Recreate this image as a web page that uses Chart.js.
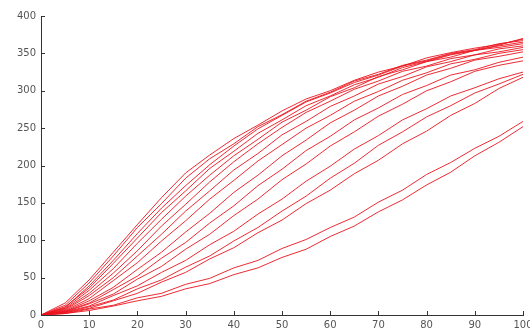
<!DOCTYPE html>
<html>
<head>
<meta charset="utf-8">
<script src="https://cdn.jsdelivr.net/npm/chart.js@4/dist/chart.umd.min.js"></script>
<style>
  html, body { margin: 0; padding: 0; background: #fff; }
  #wrap { width: 530px; height: 336px; }
</style>
</head>
<body>
<div id="wrap"><canvas id="chart" width="530" height="336"></canvas></div>
<script>
// x positions shared by every run
const xs = [0, 5, 10, 15, 20, 25, 30, 35, 40, 45, 50, 55, 60, 65, 70, 75, 80, 85, 90, 95, 100];

// upper bundle - fast growing runs
const u1 = [0, 16, 47, 84, 121, 157, 190, 214, 236, 254, 273, 289, 300, 314, 325, 333, 344, 351, 357, 362, 369];
const u2 = [0, 13, 43, 79, 117, 149, 183, 209, 229, 252, 268, 286, 298, 313, 322, 334, 341, 350, 355, 363, 367];
const u3 = [0, 10, 39, 73, 109, 143, 173, 201, 226, 249, 267, 285, 297, 311, 321, 333, 340, 349, 354, 361, 370];
const u4 = [0, 11, 36, 69, 103, 137, 166, 196, 219, 243, 261, 280, 293, 308, 318, 331, 339, 348, 354, 360, 365];
const u5 = [0, 9, 33, 62, 96, 128, 159, 187, 213, 235, 258, 274, 292, 304, 319, 328, 339, 345, 354, 358, 363];
const u6 = [0, 8, 29, 56, 86, 119, 148, 178, 205, 229, 251, 271, 286, 302, 313, 326, 333, 343, 348, 356, 360];
const u7 = [0, 7, 26, 50, 79, 108, 139, 166, 194, 216, 241, 259, 279, 293, 309, 319, 332, 339, 348, 352, 358];
const u8 = [0, 6, 22, 46, 70, 99, 126, 155, 180, 206, 228, 250, 267, 286, 299, 314, 324, 336, 342, 350, 355];

// middle runs
const m1 = [0, 5, 19, 37, 61, 84, 111, 136, 164, 187, 213, 234, 257, 274, 293, 306, 321, 330, 341, 346, 352];
const m2 = [0, 5, 16, 34, 52, 76, 97, 123, 146, 173, 195, 220, 239, 261, 277, 295, 307, 321, 328, 338, 345];
const m3 = [0, 4, 15, 28, 48, 65, 88, 108, 133, 155, 181, 202, 226, 245, 266, 282, 300, 312, 326, 334, 340];
const m4 = [0, 4, 12, 26, 39, 57, 73, 94, 112, 135, 155, 179, 199, 222, 240, 261, 276, 293, 304, 316, 325];
const m5 = [0, 3, 11, 20, 35, 47, 64, 79, 99, 117, 139, 159, 183, 203, 227, 245, 265, 280, 297, 309, 322];
const m6 = [0, 3, 9, 19, 29, 44, 57, 75, 90, 110, 127, 149, 167, 189, 207, 229, 246, 267, 283, 303, 318];

// slow runs
const l1 = [0, 2, 8, 13, 23, 29, 41, 49, 63, 73, 89, 101, 117, 131, 151, 167, 188, 204, 223, 239, 259];
const l2 = [0, 2, 6, 12, 19, 25, 35, 42, 54, 63, 77, 88, 105, 119, 138, 154, 174, 191, 213, 231, 252];

const runs = [u1, u2, u3, u4, u5, u6, u7, u8, m1, m2, m3, m4, m5, m6, l1, l2];

const xTicks = [0, 10, 20, 30, 40, 50, 60, 70, 80, 90, 100];
const yTicks = [0, 50, 100, 150, 200, 250, 300, 350, 400];

const datasets = runs.map((run) => ({
  data: run.map((v, i) => ({ x: xs[i], y: v })),
  borderColor: 'rgba(235, 20, 30, 0.9)',
  borderWidth: 1,
  pointRadius: 0,
  tension: 0,
  fill: false
}));

const axisColor = '#333';
const tickFont = { family: 'DejaVu Sans', size: 10 };

// matlab style ticks pointing into the plot area
const innerTicks = {
  id: 'innerTicks',
  afterDraw(chart) {
    const { ctx, chartArea, scales } = chart;
    ctx.save();
    ctx.strokeStyle = axisColor;
    ctx.lineWidth = 1;
    ctx.beginPath();
    xTicks.forEach((v) => {
      const px = Math.round(scales.x.getPixelForValue(v)) + 0.5;
      ctx.moveTo(px, chartArea.bottom);
      ctx.lineTo(px, chartArea.bottom - 4);
    });
    yTicks.forEach((v) => {
      const py = Math.round(scales.y.getPixelForValue(v)) + 0.5;
      ctx.moveTo(chartArea.left, py);
      ctx.lineTo(chartArea.left + 4, py);
    });
    ctx.stroke();
    ctx.restore();
  }
};

new Chart(document.getElementById('chart'), {
  type: 'line',
  data: { datasets },
  plugins: [innerTicks],
  options: {
    responsive: false,
    animation: false,
    layout: { padding: { top: 16, right: 7, left: 0, bottom: 0 } },
    plugins: { legend: { display: false }, tooltip: { enabled: false } },
    scales: {
      x: {
        type: 'linear',
        min: 0,
        max: 100,
        afterBuildTicks: (scale) => { scale.ticks = xTicks.map(v => ({ value: v })); },
        afterFit: (scale) => {
          scale.height = 21;
          // let the last label run off the canvas edge like the original
          scale.paddingLeft = 0;
          scale.paddingRight = 0;
        },
        border: { display: true, color: axisColor, width: 1 },
        grid: { drawOnChartArea: false, drawTicks: false },
        ticks: { color: '#555', font: tickFont, padding: 4, maxRotation: 0, autoSkip: false }
      },
      y: {
        min: 0,
        max: 400,
        afterBuildTicks: (scale) => { scale.ticks = yTicks.map(v => ({ value: v })); },
        afterFit: (scale) => {
          scale.width = 41;
          scale.paddingTop = 0;
          scale.paddingBottom = 0;
        },
        border: { display: true, color: axisColor, width: 1 },
        grid: { drawOnChartArea: false, drawTicks: false },
        ticks: { color: '#555', font: tickFont, padding: 5, autoSkip: false }
      }
    }
  }
});
</script>
</body>
</html>
